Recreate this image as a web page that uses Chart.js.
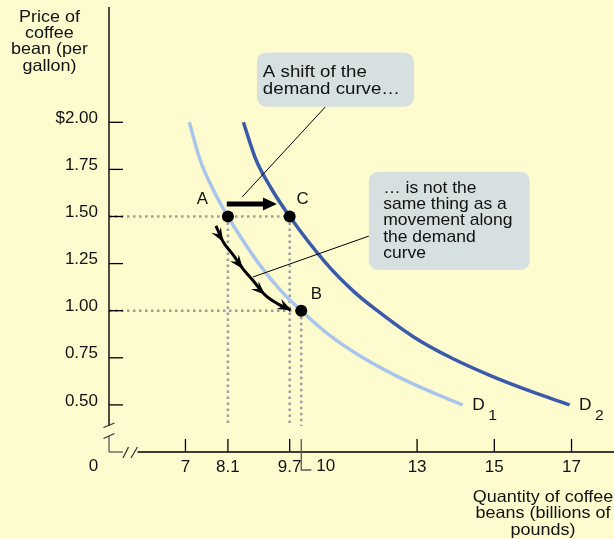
<!DOCTYPE html>
<html><head><meta charset="utf-8">
<script src="https://cdn.jsdelivr.net/npm/chart.js@4/dist/chart.umd.min.js"></script>
<style>html,body{margin:0;padding:0;background:#FEFCCF;overflow:hidden}canvas{display:block}</style>
</head><body>
<canvas id="c" width="614" height="539"></canvas>
<script>
// ---- data ----
const xTickValues = [7, 8.1, 9.7, 10, 13, 15, 17];
const yTickValues = [0.5, 0.75, 1.0, 1.25, 1.5, 1.75, 2.0];
const yTickLabels = ['0.50', '0.75', '1.00', '1.25', '1.50', '1.75', '$2.00'];

const d1Quantity = [7.10, 7.38, 7.70, 8.10, 8.90, 9.50, 10.00, 10.78, 11.60, 12.50, 13.35, 14.18];
const d1Price    = [2.00, 1.80, 1.65, 1.50, 1.25, 1.10, 1.00, 0.862, 0.75, 0.65, 0.57, 0.50];

const d2Quantity = [8.50, 8.83, 9.22, 9.70, 10.65, 11.37, 11.97, 12.90, 13.88, 14.96, 15.97, 16.95];
const d2Price    = [2.00, 1.80, 1.65, 1.50, 1.25, 1.10, 1.00, 0.862, 0.75, 0.65, 0.57, 0.50];

const pointNames    = ['A', 'C', 'B'];
const pointQuantity = [8.1, 9.7, 10];
const pointPrice    = [1.5, 1.5, 1.0];

const moveQuantity = [7.79, 7.98, 8.24, 8.49, 8.75, 9.06, 9.40, 9.72];
const movePrice    = [1.45, 1.365, 1.295, 1.222, 1.160, 1.084, 1.035, 1.003];
const moveHeads    = [1, 3, 5, 7];

const shiftQuantity = [8.07, 9.37];
const shiftPrice    = [1.566, 1.566];

const curveNames = ['D', 'D'];
const curveSubs  = ['1', '2'];

const callout1Lines = ['A shift of the', 'demand curve…'];
const callout2Lines = ['… is not the', 'same thing as a', 'movement along', 'the demand', 'curve'];
const yTitleLines = ['Price of', 'coffee', 'bean (per', 'gallon)'];
const xTitleLines = ['Quantity of coffee', 'beans (billions of', 'pounds)'];

// ---- styles ----
const BG = '#FEFCCF';
const D1_COLOR = '#A9C5EC';
const D2_COLOR = '#3B5BAA';
const BOX_COLOR = '#D6E0E0';
const FONT = '"Liberation Sans", Arial, Helvetica, sans-serif';

const zip = (xs, ys) => xs.map((x, i) => ({x: x, y: ys[i]}));

function txt(c, s, x, y, size, align, sx) {
  c.save();
  c.font = size + 'px ' + FONT;
  c.fillStyle = '#111';
  c.textAlign = align;
  c.textBaseline = 'alphabetic';
  c.translate(x, y);
  c.scale(sx || 1, 1);
  c.fillText(s, 0, 0);
  c.restore();
}
function line(c, x1, y1, x2, y2, w, col) {
  c.save(); c.beginPath(); c.moveTo(x1, y1); c.lineTo(x2, y2);
  c.lineWidth = w; c.strokeStyle = col; c.stroke(); c.restore();
}
function roundRect(c, x1, y1, x2, y2, r, fill) {
  c.save(); c.beginPath();
  c.moveTo(x1 + r, y1); c.lineTo(x2 - r, y1); c.quadraticCurveTo(x2, y1, x2, y1 + r);
  c.lineTo(x2, y2 - r); c.quadraticCurveTo(x2, y2, x2 - r, y2);
  c.lineTo(x1 + r, y2); c.quadraticCurveTo(x1, y2, x1, y2 - r);
  c.lineTo(x1, y1 + r); c.quadraticCurveTo(x1, y1, x1 + r, y1);
  c.closePath(); c.fillStyle = fill; c.fill(); c.restore();
}
function barbHead(c, tx, ty, dx, dy, len, half, notch) {
  const L = Math.hypot(dx, dy); const ux = dx / L, uy = dy / L; const vx = -uy, vy = ux;
  c.save(); c.beginPath();
  c.moveTo(tx, ty);
  c.lineTo(tx - ux * len + vx * half, ty - uy * len + vy * half);
  c.lineTo(tx - ux * notch, ty - uy * notch);
  c.lineTo(tx - ux * len - vx * half, ty - uy * len - vy * half);
  c.closePath(); c.fillStyle = '#000'; c.fill(); c.restore();
}

const decor = {
  id: 'decor',
  beforeDraw(chart) {
    const c = chart.ctx; c.save(); c.fillStyle = BG; c.fillRect(0, 0, chart.width, chart.height); c.restore();
  },
  beforeDatasetsDraw(chart) {
    const c = chart.ctx, xs = chart.scales.x, ys = chart.scales.y, a = chart.chartArea;
    const px = v => xs.getPixelForValue(v), py = v => ys.getPixelForValue(v);
    c.save();
    c.setLineDash([2.5, 3.5]); c.lineWidth = 2.5; c.strokeStyle = '#9E9E9E';
    const dropEnd = a.bottom - 26;
    c.beginPath(); c.moveTo(a.left, py(pointPrice[1])); c.lineTo(px(pointQuantity[1]), py(pointPrice[1])); c.stroke();
    c.beginPath(); c.moveTo(a.left, py(pointPrice[2])); c.lineTo(px(pointQuantity[2]), py(pointPrice[2])); c.stroke();
    for (let i = 0; i < pointQuantity.length; i++) {
      c.beginPath(); c.moveTo(px(pointQuantity[i]), py(pointPrice[i])); c.lineTo(px(pointQuantity[i]), dropEnd); c.stroke();
    }
    c.restore();
  },
  afterDatasetsDraw(chart) {
    const c = chart.ctx, xs = chart.scales.x, ys = chart.scales.y, a = chart.chartArea;
    const px = v => xs.getPixelForValue(v), py = v => ys.getPixelForValue(v);
    const ax = a.left, ab = a.bottom;

    // y axis with break
    line(c, ax, 7, ax, ab - 26, 1.4, '#000');
    line(c, ax, ab - 16, ax, ab, 1.4, '#666');
    line(c, ax - 5.5, ab - 24.5, ax + 5.5, ab - 29, 1.2, '#333');
    line(c, ax - 5.5, ab - 13.5, ax + 5.5, ab - 18.5, 1.2, '#333');
    // x axis with break
    line(c, ax, ab, ax + 14, ab, 1.4, '#666');
    line(c, ax + 14, ab + 6, ax + 19.5, ab - 5, 1.2, '#333');
    line(c, ax + 22, ab + 6, ax + 28.5, ab - 5, 1.2, '#333');
    line(c, ax + 28.5, ab, chart.width, ab, 1.4, '#000');
    txt(c, '0', ax - 15.5, ab + 18.7, 17, 'center', 1);

    yTickValues.forEach(v => line(c, ax, py(v), ax + 14, py(v), 1.3, '#000'));
    xTickValues.forEach(v => {
      if (v === 10) return;
      line(c, px(v), ab, px(v), ab - 13, 1.3, '#000');
    });
    c.save(); c.beginPath();
    c.moveTo(px(10), ab - 13); c.lineTo(px(10), ab + 18); c.lineTo(px(10) + 10, ab + 18);
    c.lineWidth = 1.3; c.strokeStyle = '#555'; c.stroke(); c.restore();
    txt(c, '10', px(10) + 15, ab + 18.7, 17, 'left', 1);

    // movement arrowheads
    const mp = moveQuantity.map((q, i) => [px(q), py(movePrice[i])]);
    moveHeads.forEach(i => {
      const prev = mp[Math.max(0, i - 1)], next = mp[Math.min(mp.length - 1, i + 1)];
      const isEnd = i === mp.length - 1;
      const dx = (isEnd ? mp[i][0] : next[0]) - prev[0], dy = (isEnd ? mp[i][1] : next[1]) - prev[1];
      barbHead(c, mp[i][0] + (isEnd ? 1 : 0), mp[i][1], dx, dy, 14, 5.5, 9);
    });

    // shift arrow A -> C
    const sx1 = px(shiftQuantity[0]), sx2 = px(shiftQuantity[1]), sy = py(shiftPrice[0]);
    line(c, sx1, sy, sx2 - 12, sy, 5, '#000');
    c.save(); c.beginPath(); c.moveTo(sx2, sy); c.lineTo(sx2 - 14, sy - 6.5); c.lineTo(sx2 - 14, sy + 6.5); c.closePath();
    c.fillStyle = '#000'; c.fill(); c.restore();

    // callout 1
    roundRect(c, px(8.85), py(2.37), px(12.92), py(2.083), 11, BOX_COLOR);
    callout1Lines.forEach((s, i) => txt(c, s, px(8.85) + 6, py(2.37) + 24.6 + i * 17, 17, 'left', 1.1));
    line(c, px(10.62), py(2.081), px(8.47), py(1.604), 1, '#000');

    // callout 2
    roundRect(c, px(11.75), py(1.738), px(15.92), py(1.216), 11, BOX_COLOR);
    callout2Lines.forEach((s, i) => txt(c, s, px(11.75) + 14.3, py(1.738) + 21 + i * 16.3, 17, 'left', 1.03));
    line(c, px(11.75), py(1.396), px(8.75), py(1.179), 1, '#000');

    // point labels
    const lp = [[-25.5, -12.2], [13, -12.2], [15, -11.4]];
    pointNames.forEach((n, i) => txt(c, n, px(pointQuantity[i]) + lp[i][0], py(pointPrice[i]) + lp[i][1], 16, 'center', 1.05));

    // curve labels
    const ends = [[d1Quantity[d1Quantity.length - 1], d1Price[d1Price.length - 1]], [d2Quantity[d2Quantity.length - 1], d2Price[d2Price.length - 1]]];
    ends.forEach((e, i) => {
      const ex = px(e[0]), ey = py(e[1]);
      txt(c, curveNames[i], ex + 9.5, ey + 4.7, 16.5, 'left', 1.05);
      txt(c, curveSubs[i], ex + 25.5, ey + 14.7, 15, 'left', 1.05);
    });

    yTitleLines.forEach((s, i) => txt(c, s, 49.4, 21.7 + i * 16.3, 16.5, 'center', 1.09));
    xTitleLines.forEach((s, i) => txt(c, s, 543, ab + 49.7 + i * 16.4, 16.5, 'center', 1.09));
  }
};

new Chart(document.getElementById('c'), {
  type: 'scatter',
  data: {
    datasets: [
      {data: zip(d1Quantity, d1Price), order: 3, showLine: true, borderColor: D1_COLOR, borderWidth: 3.5, pointRadius: 0, cubicInterpolationMode: 'monotone', fill: false},
      {data: zip(d2Quantity, d2Price), order: 2, showLine: true, borderColor: D2_COLOR, borderWidth: 3.5, pointRadius: 0, cubicInterpolationMode: 'monotone', fill: false},
      {data: zip(moveQuantity, movePrice), order: 1, showLine: true, borderColor: '#000', borderWidth: 3, pointRadius: 0, cubicInterpolationMode: 'monotone', fill: false},
      {data: zip(pointQuantity, pointPrice), order: 0, showLine: false, pointRadius: 6, pointBackgroundColor: '#000', pointBorderColor: '#000', pointBorderWidth: 0}
    ]
  },
  options: {
    responsive: false, animation: false, devicePixelRatio: 1,
    layout: {autoPadding: false, padding: {top: 7, left: 0, right: 0, bottom: 0}},
    plugins: {legend: {display: false}, tooltip: {enabled: false}},
    scales: {
      x: {
        type: 'linear', min: 5.02, max: 18.1,
        afterBuildTicks(axis) { axis.ticks = xTickValues.map(v => ({value: v})); },
        afterFit(s) { s.height = 87; s.paddingLeft = 0; s.paddingRight = 0; },
        grid: {display: false, drawTicks: false}, border: {display: false},
        ticks: {
          callback: v => (v === 10 ? '' : String(v)),
          font: {family: FONT, size: 17}, color: '#111', padding: 5, maxRotation: 0, autoSkip: false
        }
      },
      y: {
        type: 'linear', min: 0.25, max: 2.612,
        afterBuildTicks(axis) { axis.ticks = yTickValues.map(v => ({value: v})); },
        afterFit(s) { s.width = 109; s.paddingTop = 0; s.paddingBottom = 0; },
        grid: {display: false, drawTicks: false}, border: {display: false},
        ticks: {
          callback: v => yTickLabels[yTickValues.indexOf(v)],
          font: {family: FONT, size: 17}, color: '#111', padding: 11, labelOffset: -4, autoSkip: false
        }
      }
    }
  },
  plugins: [decor]
});
</script>
</body></html>
